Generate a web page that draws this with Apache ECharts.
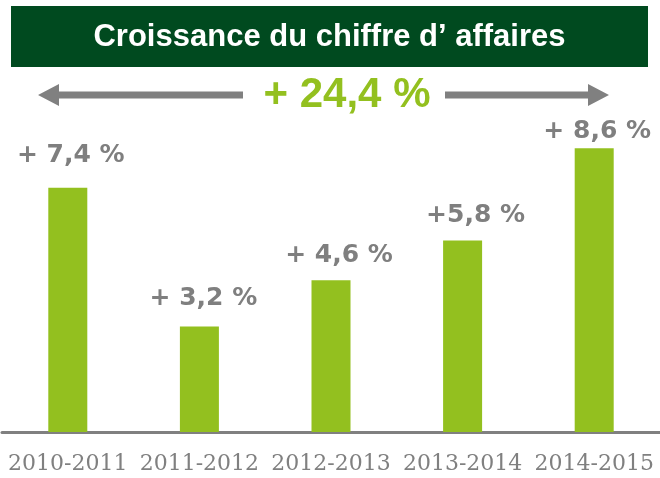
<!DOCTYPE html>
<html>
<head>
<meta charset="utf-8">
<script src="https://cdn.jsdelivr.net/npm/echarts@6/dist/echarts.min.js"></script>
<style>
  html, body { margin: 0; padding: 0; background: #fff; }
  #chart { width: 660px; height: 478px; }
</style>
</head>
<body>
<div id="chart"></div>
<script>
// 數據
const periods = ['2010-2011', '2011-2012', '2012-2013', '2013-2014', '2014-2015']
const growth = [7.4, 3.2, 4.6, 5.8, 8.6]
const growthLabels = ['+ 7,4 %', '+ 3,2 %', '+ 4,6 %', '+5,8 %', '+ 8,6 %']
const titleText = 'Croissance du chiffre d’ affaires'
const totalText = '+ 24,4 %'

// 標籤與柱頂的距離 (手動擺放)
const labelGap = [20, 15, 12, 13, 4]
const labelShift = [3, 4, 8, 13, 3]

const green = '#93c01f'
const grey = '#7f7f7f'

const chart = echarts.init(document.getElementById('chart'))

chart.setOption({
  animation: false,
  grid: { left: 2, right: -3, top: 102, bottom: 46, containLabel: false },
  xAxis: {
    type: 'category',
    data: periods,
    axisLine: { lineStyle: { color: '#808080', width: 3 } },
    axisTick: { show: false },
    axisLabel: {
      color: '#808080',
      fontFamily: 'DejaVu Serif',
      fontSize: 22,
      margin: 21,
      interval: 0
    }
  },
  yAxis: {
    type: 'value',
    min: 0,
    max: 10,
    show: false,
    splitLine: { show: false }
  },
  series: [
    {
      type: 'bar',
      barWidth: 39,
      itemStyle: { color: green },
      data: growth.map((v, i) => ({
        value: v,
        label: {
          distance: labelGap[i],
          offset: [labelShift[i], 0],
          formatter: growthLabels[i]
        }
      })),
      label: {
        show: true,
        position: 'top',
        color: grey,
        fontFamily: 'DejaVu Sans',
        fontWeight: 'bold',
        fontSize: 25
      }
    }
  ],
  graphic: [
    // 標題背景
    {
      type: 'rect',
      shape: { x: 11, y: 6, width: 637, height: 61 },
      style: { fill: '#004a1f' }
    },
    {
      type: 'text',
      x: 329.5,
      y: 37,
      style: {
        text: titleText,
        fill: '#ffffff',
        font: 'bold 31px "Liberation Sans", Arial, sans-serif',
        align: 'center',
        verticalAlign: 'middle'
      }
    },
    // 左箭頭
    {
      type: 'polygon',
      shape: { points: [[38, 95], [59, 84], [59, 91.5], [243, 91.5], [243, 98.5], [59, 98.5], [59, 106]] },
      style: { fill: '#808080' }
    },
    // 右箭頭
    {
      type: 'polygon',
      shape: { points: [[609, 95], [588, 84], [588, 91.5], [445, 91.5], [445, 98.5], [588, 98.5], [588, 106]] },
      style: { fill: '#808080' }
    },
    {
      type: 'text',
      x: 347,
      y: 95,
      style: {
        text: totalText,
        fill: green,
        font: 'bold 42px "Liberation Sans", Arial, sans-serif',
        align: 'center',
        verticalAlign: 'middle'
      }
    }
  ]
})
</script>
</body>
</html>
